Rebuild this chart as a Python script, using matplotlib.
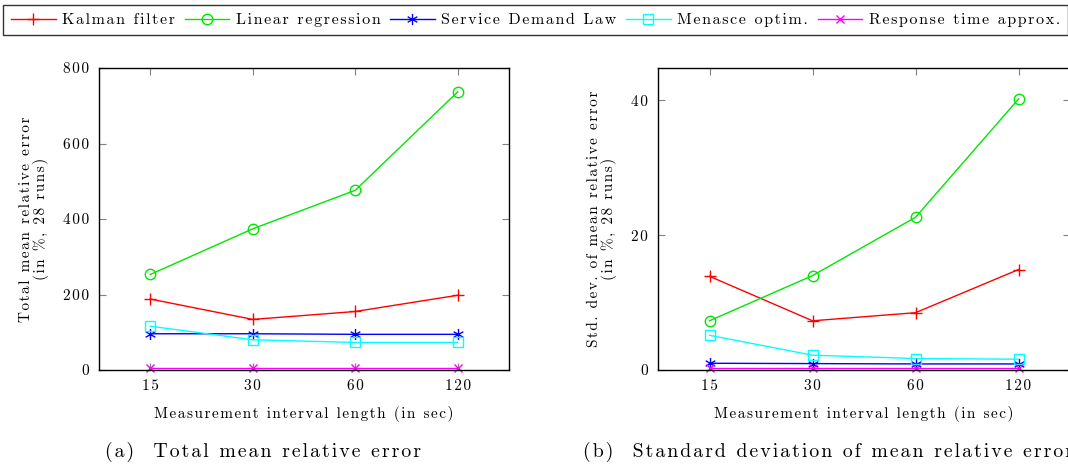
import math
import matplotlib
matplotlib.use("Agg")
import matplotlib.pyplot as plt
from matplotlib.lines import Line2D
from matplotlib.path import Path

plt.rcParams["font.family"] = ["cmr10", "DejaVu Serif"]
plt.rcParams["axes.formatter.use_mathtext"] = True
plt.rcParams["mathtext.fontset"] = "cm"

intervals = ["15", "30", "60", "120"]

series_names = ["Kalman filter", "Linear regression", "Service Demand Law",
                "Menasce optim.", "Response time approx."]

mean_kalman = [188, 134, 155, 198]
mean_linreg = [253, 374, 476, 737]
mean_sdl = [96, 96, 94.5, 94.5]
mean_menasce = [116, 80, 73, 73]
mean_rta = [6, 6, 6, 6]

std_kalman = [13.9, 7.3, 8.5, 14.9]
std_linreg = [7.3, 14.0, 22.65, 40.2]
std_sdl = [1.0, 0.95, 0.9, 0.9]
std_menasce = [5.15, 2.2, 1.7, 1.6]
std_rta = [0.35, 0.35, 0.35, 0.35]

HAIR = "\u200a"


def spaced(s):
    """Loosely tracked text: a hair space between every pair of glyphs."""
    return HAIR.join(s)


# six-spoke asterisk marker
_verts, _codes = [], []
for k in range(3):
    a = math.pi / 2 + k * math.pi / 3
    dx, dy = math.cos(a), math.sin(a)
    _verts += [(-dx, -dy), (dx, dy)]
    _codes += [Path.MOVETO, Path.LINETO]
asterisk = Path(_verts, _codes)

colors = ["#ff0000", "#00e600", "#0000ff", "#00ffff", "#ff00ff"]
markers = ["+", "o", asterisk, "s", "x"]
msizes = [9, 7.5, 8, 7.5, 6]

fig = plt.figure(figsize=(10.68, 4.66), dpi=100)
axL = fig.add_axes([99 / 1068, 1 - 370 / 466, 410 / 1068, 302 / 466])
axR = fig.add_axes([658 / 1068, 1 - 370 / 466, 412 / 1068, 302 / 466])

x = list(range(len(intervals)))


def draw(ax, data, ymax, yticks, ylabel):
    for vals, c, m, ms in zip(data, colors, markers, msizes):
        ax.plot(x, vals, color=c, marker=m, markersize=ms, markerfacecolor="none",
                markeredgecolor=c, markeredgewidth=1.0, linewidth=1.0, clip_on=False)
    ax.set_xlim(-0.5, 3.5)
    ax.set_ylim(0, ymax)
    ax.set_xticks(x)
    ax.set_xticklabels([spaced(t) for t in intervals])
    ax.set_yticks(yticks)
    ax.set_yticklabels([spaced(str(t)) for t in yticks])
    ax.tick_params(direction="in", length=5, width=0.8, color="#808080",
                   top=True, right=True, labelsize=11, pad=7)
    for s in ax.spines.values():
        s.set_linewidth(1.0)
    ax.set_xlabel(spaced("Measurement interval length (in sec)"),
                  fontsize=11, labelpad=9)
    ax.set_ylabel(ylabel, fontsize=11, labelpad=10, linespacing=1.05)


draw(axL, [mean_kalman, mean_linreg, mean_sdl, mean_menasce, mean_rta],
     800, [0, 200, 400, 600, 800],
     spaced("Total mean relative error") + "\n" + spaced("(in %, 28 runs)"))
draw(axR, [std_kalman, std_linreg, std_sdl, std_menasce, std_rta],
     44.8, [0, 20, 40],
     spaced("Std. dev. of mean relative error") + "\n" + spaced("(in %, 28 runs)"))

handles = [Line2D([], [], color=c, marker=m, markersize=ms, markerfacecolor="none",
                  markeredgecolor=c, linewidth=1.0)
           for c, m, ms in zip(colors, markers, msizes)]
leg = fig.legend(handles, [spaced(n) for n in series_names], loc="upper left", ncol=5,
                 bbox_to_anchor=(3 / 1068, 1 - 5 / 466),
                 fontsize=11.5, frameon=True, fancybox=False, handlelength=2.8,
                 handletextpad=0.4, columnspacing=0.6, borderaxespad=0.0,
                 borderpad=0.5)
leg.get_frame().set_edgecolor("black")
leg.get_frame().set_linewidth(1.0)

fig.text(105 / 1068, 1 - 452 / 466, spaced("(a)  Total mean relative error"),
         ha="left", va="center", fontsize=14.3)
fig.text(583 / 1068, 1 - 452 / 466, spaced("(b)  Standard deviation of mean relative error"),
         ha="left", va="center", fontsize=14.3)

fig.savefig("out.png", dpi=100)
